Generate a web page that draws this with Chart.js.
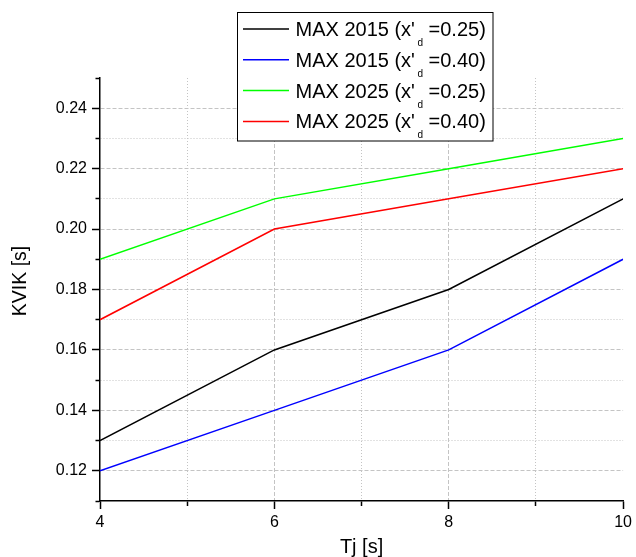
<!DOCTYPE html>
<html>
<head>
<meta charset="utf-8">
<script src="https://cdn.jsdelivr.net/npm/chart.js@4/dist/chart.umd.min.js"></script>
<style>
  html, body { margin: 0; padding: 0; background: #ffffff; }
  canvas { display: block; }
</style>
</head>
<body>
<canvas id="chart" width="636" height="557"></canvas>
<script>
// Tj values (x) and KVIK values (y) for each series
const tjValues = [4, 6, 8, 10];
const kvikMax2015x025 = [0.13, 0.16, 0.18, 0.21];
const kvikMax2015x040 = [0.12, 0.14, 0.16, 0.19];
const kvikMax2025x025 = [0.19, 0.21, 0.22, 0.23];
const kvikMax2025x040 = [0.17, 0.20, 0.21, 0.22];

// Legend parts: case name and the x'd value
const seriesNames = ['MAX 2015', 'MAX 2015', 'MAX 2025', 'MAX 2025'];
const seriesXd = ['0.25', '0.40', '0.25', '0.40'];

// Axis ticks (major ones carry a label, minor ones are blank)
const xTickValues = [4, 5, 6, 7, 8, 9, 10];
const xTickLabels = ['4', '', '6', '', '8', '', '10'];
const yTickValues = [0.11, 0.12, 0.13, 0.14, 0.15, 0.16, 0.17, 0.18, 0.19, 0.20, 0.21, 0.22, 0.23, 0.24, 0.25];
const yTickLabels = ['', '0.12', '', '0.14', '', '0.16', '', '0.18', '', '0.20', '', '0.22', '', '0.24', ''];

const xTitle = 'Tj [s]';
const yTitle = 'KVIK [s]';

const FONT = "'Liberation Sans', Arial, Helvetica, sans-serif";

const toPoints = (ys) => tjValues.map((x, i) => ({ x: x, y: ys[i] }));

const seriesData = [kvikMax2015x025, kvikMax2015x040, kvikMax2025x025, kvikMax2025x040];
const seriesColors = ['#000000', '#0000ff', '#00ff00', '#ff0000'];

const datasets = seriesData.map((ys, i) => ({
  label: seriesNames[i] + " (x'd =" + seriesXd[i] + ')',
  data: toPoints(ys),
  borderColor: seriesColors[i],
  backgroundColor: seriesColors[i],
  borderWidth: 1.5,
  pointRadius: 0,
  pointHoverRadius: 0,
  tension: 0,
  fill: false
}));

function labelAt(labels, ctx) {
  if (!ctx || ctx.index === undefined || ctx.type !== 'tick') return null;
  return labels[ctx.index];
}

function isEdge(values, ctx) {
  return ctx && ctx.type === 'tick' && (ctx.index === 0 || ctx.index === values.length - 1);
}

function gridColor(values) {
  return (ctx) => isEdge(values, ctx) ? 'rgba(0,0,0,0)' : '#c4c4c4';
}

function gridDash(labels) {
  return (ctx) => {
    const l = labelAt(labels, ctx);
    if (l === null) return [];
    return l !== '' ? [4, 2] : [1, 2];
  };
}

// Legend box with subscripted x'd, plus the rotated y-axis title
const annotationPlugin = {
  id: 'annotations',
  afterDraw(chart) {
    const ctx = chart.ctx;
    ctx.save();

    // y-axis title
    ctx.fillStyle = '#000000';
    ctx.font = '19.5px ' + FONT;
    ctx.textAlign = 'center';
    ctx.textBaseline = 'middle';
    ctx.translate(20.5, 281);
    ctx.rotate(-Math.PI / 2);
    ctx.fillText(yTitle, 0, 0);
    ctx.setTransform(1, 0, 0, 1, 0, 0);

    // legend frame
    const bx = 237.5, by = 12.5, bw = 255.5, bh = 128.5;
    ctx.fillStyle = '#ffffff';
    ctx.fillRect(bx, by, bw, bh);
    ctx.strokeStyle = '#000000';
    ctx.lineWidth = 1;
    ctx.strokeRect(bx, by, bw, bh);

    ctx.textAlign = 'left';
    ctx.textBaseline = 'alphabetic';
    chart.data.datasets.forEach((ds, i) => {
      const cy = 29 + i * 30.8;
      ctx.strokeStyle = ds.borderColor;
      ctx.lineWidth = 1.5;
      ctx.beginPath();
      ctx.moveTo(243, cy);
      ctx.lineTo(289, cy);
      ctx.stroke();

      const base = cy + 7;
      let x = 295.5;
      ctx.fillStyle = '#000000';
      ctx.font = '20px ' + FONT;
      const p1 = seriesNames[i] + " (x'";
      ctx.fillText(p1, x, base);
      x += ctx.measureText(p1).width + 2.5;
      ctx.font = '10px ' + FONT;
      ctx.fillText('d', x, base + 10);
      x += ctx.measureText('d').width;
      ctx.font = '20px ' + FONT;
      ctx.fillText(' =' + seriesXd[i] + ')', x, base);
    });
    ctx.restore();
  }
};

new Chart(document.getElementById('chart'), {
  type: 'line',
  data: { datasets: datasets },
  plugins: [annotationPlugin],
  options: {
    responsive: false,
    animation: false,
    devicePixelRatio: 1,
    layout: { padding: { top: 78, right: 12, left: 0, bottom: 0 } },
    plugins: {
      legend: { display: false },
      tooltip: { enabled: false }
    },
    scales: {
      x: {
        type: 'linear',
        min: 4,
        max: 10,
        afterBuildTicks: (s) => { s.ticks = xTickValues.map(v => ({ value: v })); },
        afterFit: (s) => { s.height = 56; },
        border: { display: true, color: '#000000', width: 1.5, dash: gridDash(xTickLabels) },
        grid: {
          color: gridColor(xTickValues),
          lineWidth: 1,
          tickLength: 8,
          tickColor: '#000000',
          tickWidth: 1.5,
          tickBorderDash: (ctx) => (labelAt(xTickLabels, ctx) === '' ? [4.5, 100] : [])
        },
        ticks: {
          callback: (v, i) => xTickLabels[i],
          font: { family: FONT, size: 16 },
          color: '#000000',
          padding: 4,
          maxRotation: 0,
          autoSkip: false
        },
        title: {
          display: true,
          text: xTitle,
          font: { family: FONT, size: 20, lineHeight: 1 },
          color: '#000000',
          padding: { top: 0, bottom: 0 }
        }
      },
      y: {
        type: 'linear',
        min: 0.11,
        max: 0.25,
        afterBuildTicks: (s) => { s.ticks = yTickValues.map(v => ({ value: v })); },
        afterFit: (s) => { s.width = 100; },
        border: { display: true, color: '#000000', width: 1.5, dash: gridDash(yTickLabels) },
        grid: {
          color: gridColor(yTickValues),
          lineWidth: 1,
          tickLength: 8,
          tickColor: '#000000',
          tickWidth: 1.5,
          tickBorderDash: (ctx) => (labelAt(yTickLabels, ctx) === '' ? [0, 3.5, 5, 100] : [])
        },
        ticks: {
          callback: (v, i) => yTickLabels[i],
          font: { family: FONT, size: 16 },
          color: '#000000',
          padding: 5,
          autoSkip: false
        },
        title: { display: false }
      }
    }
  }
});
</script>
</body>
</html>
